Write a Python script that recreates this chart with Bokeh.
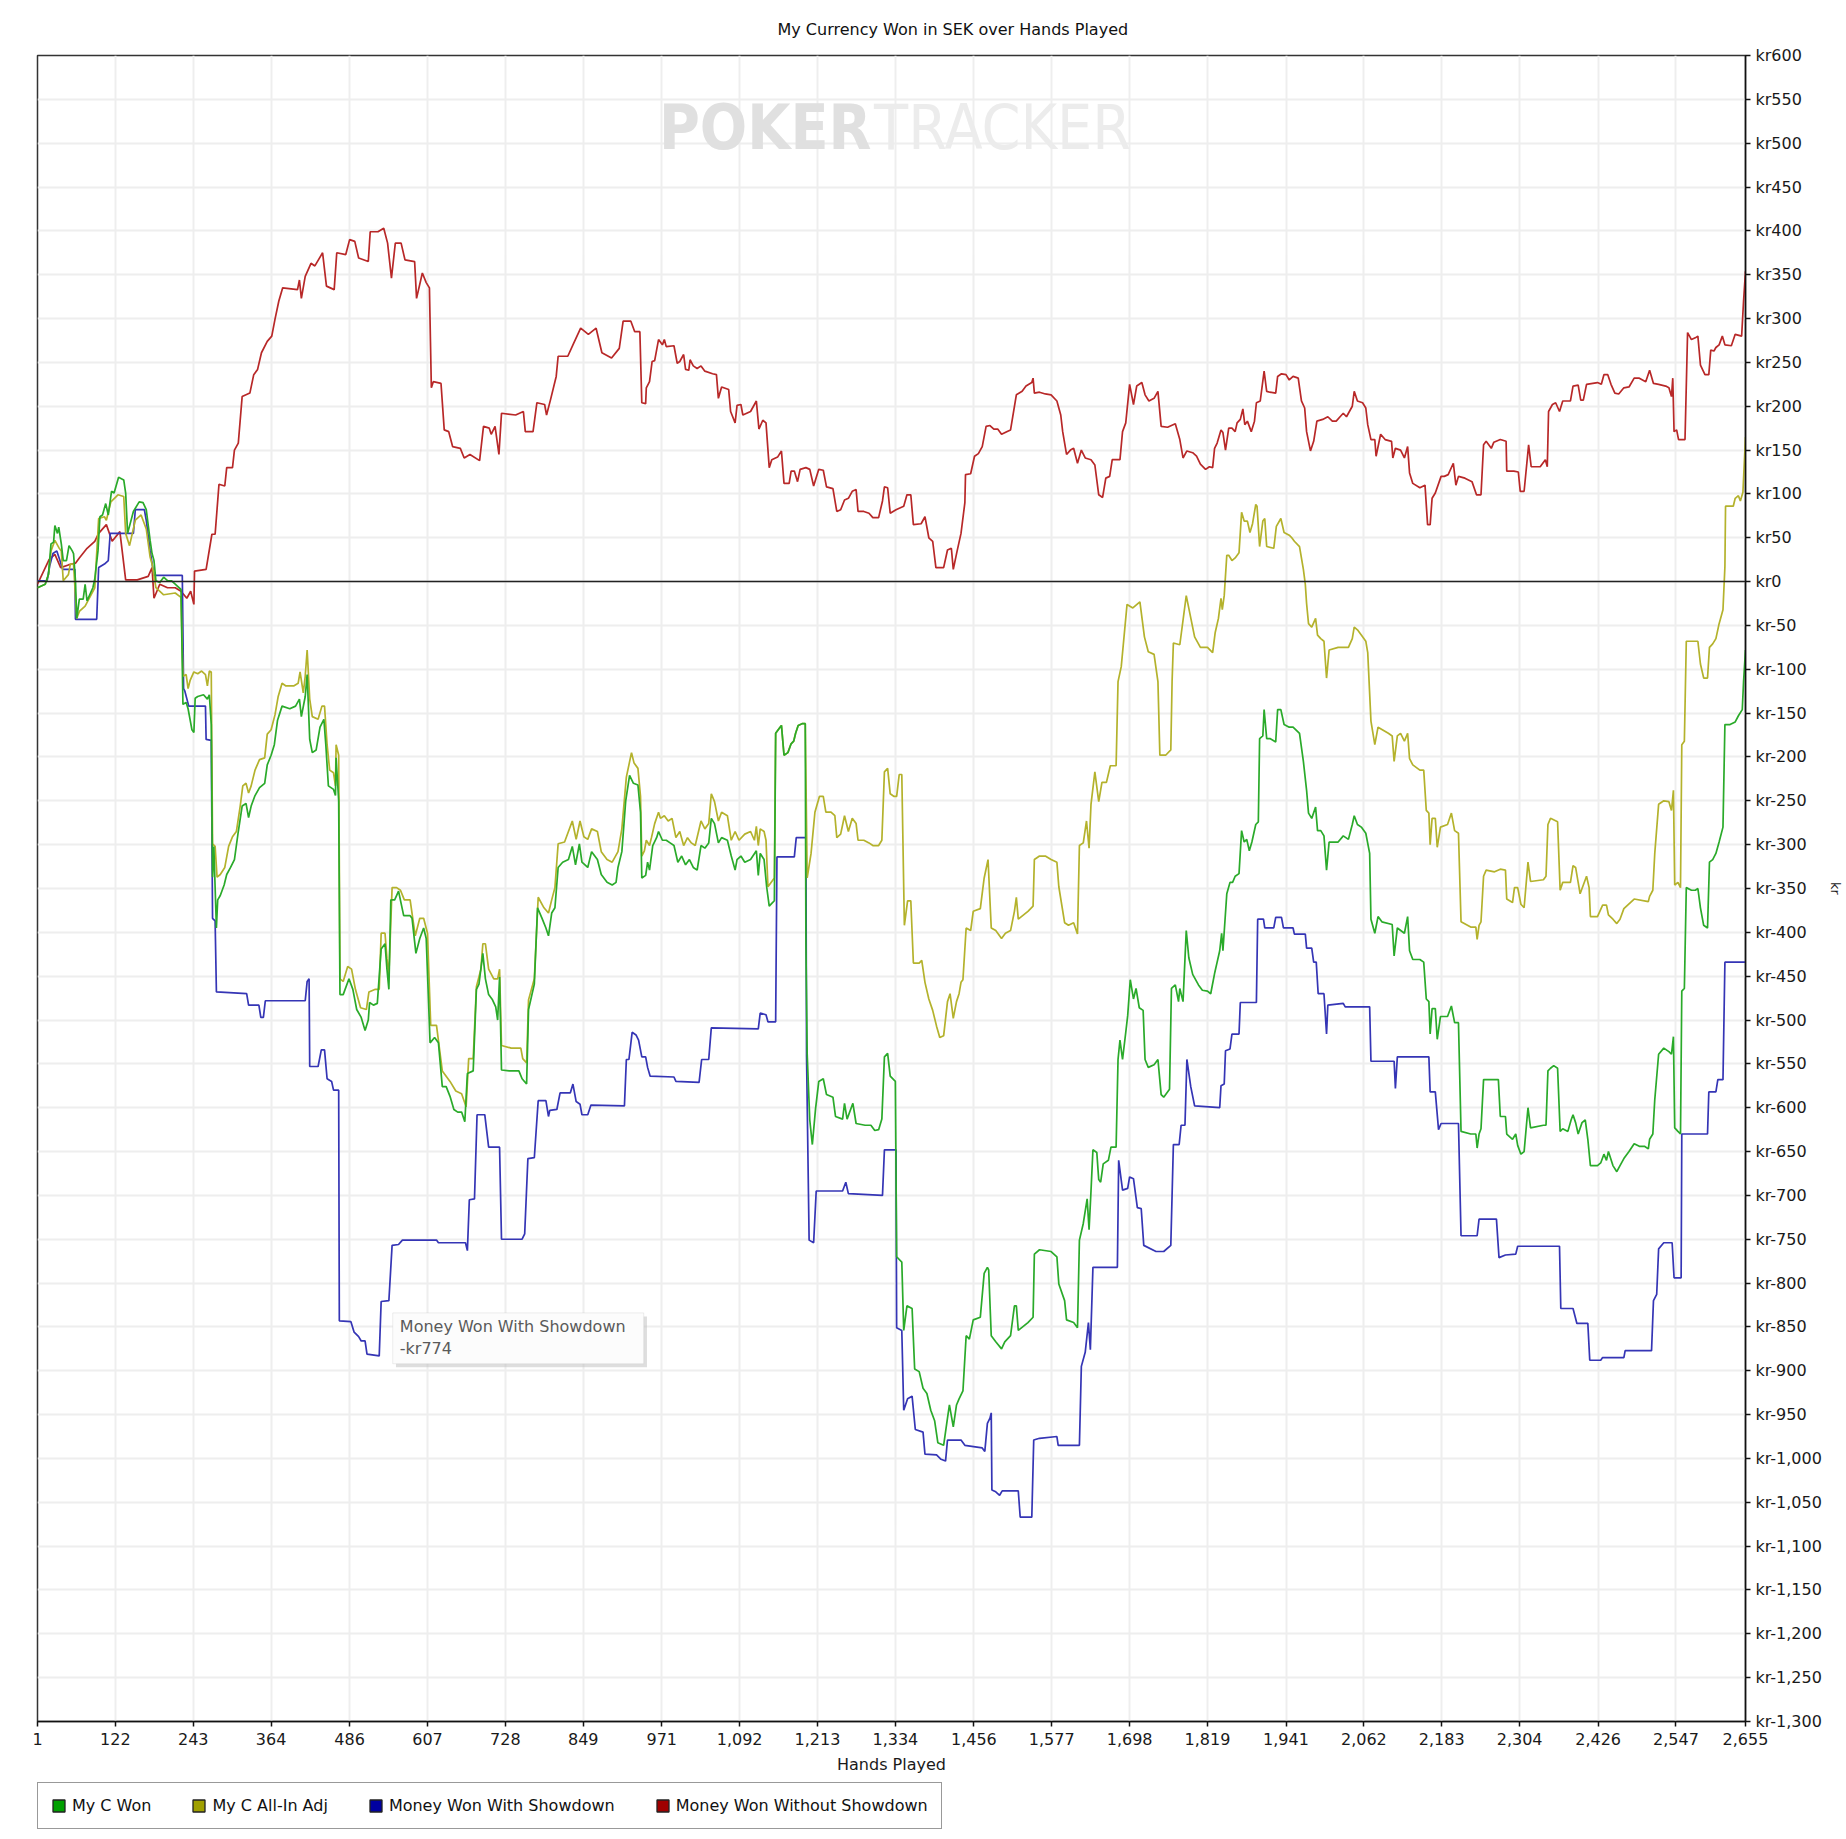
from bokeh.plotting import figure
from bokeh.layouts import column
from bokeh.models import (Range1d, FixedTicker, Span, Legend, LegendItem, Label,
                          BoxAnnotation, ColumnDataSource)
from bokeh.embed import file_html
from bokeh.resources import INLINE

TITLE = "My Currency Won in SEK over Hands Played"
X_TICKS = [1, 122, 243, 364, 486, 607, 728, 849, 971, 1092, 1213, 1334, 1456,
           1577, 1698, 1819, 1941, 2062, 2183, 2304, 2426, 2547, 2655]
Y_TICKS = list(range(-1300, 601, 50))
SERIES_NAMES = ["My C Won", "My C All-In Adj", "Money Won With Showdown",
                "Money Won Without Showdown"]
TOOLTIP = ("Money Won With Showdown", "-kr774")

GREEN = [(1,-7),(7,-5),(13,-3),(18,8),(22,43),(26,45),(28,64),(32,55),(34,62),(38,43),(41,24),(46,24),(50,41),(55,35),(57,32),(60,1),(62,-42),(66,-20),(72,-20),(75,-3),(78,-22),(87,-7),(90,3),(95,35),(98,74),(102,76),(107,89),(111,76),(116,103),(120,101),(127,119),(135,116),(138,101),(141,55),(150,80),(159,91),(165,90),(170,82),(176,47),(179,32),(182,24),(185,1),(191,-1),(197,5),(203,1),(209,1),(215,-3),(224,-9),(227,-140),(232,-138),(235,-145),(241,-169),(244,-172),(246,-133),(250,-131),(259,-129),(265,-134),(268,-129),(271,-163),(273,-337),(275,-302),(279,-395),(281,-363),(285,-358),(291,-346),(295,-334),(301,-326),(307,-317),(313,-285),(319,-256),(325,-253),(329,-269),(333,-256),(339,-244),(346,-235),(354,-230),(358,-209),(364,-198),(369,-186),(374,-158),(381,-142),(393,-145),(402,-142),(408,-134),(411,-154),(417,-131),(420,-106),(424,-180),(428,-195),(434,-192),(440,-166),(446,-157),(449,-186),(453,-233),(461,-237),(464,-244),(465,-201),(469,-250),(471,-471),(476,-471),(485,-453),(491,-465),(497,-488),(504,-497),(510,-512),(515,-500),(517,-480),(523,-483),(529,-481),(535,-419),(541,-413),(544,-442),(547,-465),(550,-363),(556,-363),(562,-353),(570,-381),(580,-381),(583,-384),(589,-424),(595,-407),(601,-395),(605,-407),(611,-526),(618,-520),(624,-526),(630,-576),(636,-576),(642,-587),(648,-602),(654,-605),(660,-605),(665,-616),(669,-561),(678,-558),(683,-465),(687,-459),(693,-424),(697,-453),(702,-471),(708,-477),(713,-485),(716,-500),(719,-451),(722,-557),(734,-558),(749,-558),(754,-567),(761,-573),(764,-488),(773,-459),(778,-372),(785,-384),(791,-395),(795,-404),(800,-378),(805,-372),(810,-326),(817,-320),(826,-317),(832,-302),(837,-323),(843,-299),(847,-320),(856,-326),(862,-308),(871,-317),(877,-334),(886,-343),(894,-346),(900,-343),(903,-326),(909,-308),(915,-250),(921,-221),(927,-230),(934,-232),(938,-263),(940,-338),(946,-335),(949,-320),(952,-329),(957,-301),(963,-292),(966,-285),(972,-295),(978,-295),(984,-298),(990,-301),(996,-320),(1002,-313),(1008,-323),(1014,-317),(1020,-326),(1026,-329),(1032,-301),(1038,-304),(1044,-298),(1048,-270),(1053,-276),(1059,-298),(1064,-292),(1073,-295),(1079,-313),(1085,-329),(1088,-317),(1094,-313),(1100,-320),(1109,-317),(1118,-307),(1121,-335),(1124,-310),(1130,-317),(1134,-348),(1138,-370),(1142,-367),(1146,-364),(1148,-173),(1154,-167),(1157,-164),(1161,-198),(1167,-195),(1172,-185),(1176,-182),(1179,-173),(1183,-164),(1189,-162),(1194,-162),(1195,-413),(1197,-539),(1201,-614),(1205,-642),(1210,-601),(1215,-570),(1222,-567),(1227,-585),(1237,-588),(1241,-610),(1252,-613),(1255,-595),(1259,-613),(1268,-595),(1273,-618),(1287,-620),(1296,-620),(1302,-626),(1308,-625),(1313,-613),(1317,-542),(1322,-538),(1326,-564),(1334,-570),(1336,-770),(1344,-776),(1347,-854),(1352,-826),(1360,-829),(1364,-898),(1371,-901),(1377,-920),(1383,-926),(1389,-945),(1395,-957),(1400,-982),(1409,-985),(1415,-954),(1418,-939),(1424,-964),(1429,-939),(1433,-932),(1439,-923),(1444,-860),(1449,-864),(1455,-842),(1466,-839),(1472,-789),(1477,-782),(1479,-785),(1483,-860),(1490,-867),(1499,-875),(1504,-867),(1513,-860),(1519,-826),(1522,-826),(1525,-854),(1540,-845),(1548,-839),(1550,-767),(1558,-762),(1576,-764),(1585,-770),(1588,-801),(1597,-820),(1600,-842),(1611,-845),(1617,-851),(1620,-751),(1626,-732),(1632,-704),(1635,-739),(1638,-695),(1641,-648),(1647,-651),(1650,-682),(1653,-685),(1657,-664),(1665,-660),(1669,-645),(1677,-645),(1680,-545),(1683,-523),(1687,-545),(1692,-514),(1695,-495),(1699,-454),(1704,-476),(1708,-464),(1713,-486),(1719,-489),(1722,-545),(1727,-554),(1736,-551),(1742,-545),(1747,-585),(1751,-588),(1760,-579),(1763,-464),(1769,-460),(1774,-479),(1776,-464),(1781,-479),(1786,-398),(1790,-429),(1796,-448),(1805,-460),(1811,-466),(1819,-467),(1824,-470),(1830,-447),(1834,-434),(1838,-421),(1841,-401),(1843,-421),(1849,-356),(1854,-343),(1858,-343),(1862,-336),(1868,-333),(1872,-284),(1876,-297),(1880,-294),(1884,-307),(1888,-297),(1894,-277),(1898,-274),(1900,-179),(1905,-176),(1907,-146),(1911,-179),(1916,-179),(1925,-183),(1928,-146),(1933,-146),(1938,-163),(1946,-166),(1952,-166),(1962,-173),(1968,-205),(1973,-238),(1976,-264),(1981,-270),(1987,-257),(1990,-284),(1995,-284),(2000,-290),(2004,-329),(2008,-297),(2022,-297),(2030,-290),(2038,-294),(2044,-277),(2047,-267),(2052,-277),(2058,-280),(2065,-287),(2071,-310),(2073,-385),(2079,-401),(2084,-382),(2090,-388),(2106,-391),(2109,-427),(2114,-395),(2125,-401),(2130,-382),(2133,-421),(2138,-431),(2149,-431),(2155,-434),(2159,-476),(2163,-479),(2165,-516),(2168,-487),(2173,-487),(2176,-522),(2181,-496),(2192,-496),(2198,-484),(2203,-503),(2209,-503),(2213,-627),(2228,-630),(2236,-630),(2238,-646),(2241,-630),(2244,-624),(2248,-568),(2271,-568),(2274,-610),(2282,-610),(2284,-630),(2293,-636),(2298,-630),(2301,-643),(2306,-653),(2311,-650),(2317,-600),(2321,-623),(2341,-620),(2345,-620),(2348,-558),(2352,-555),(2357,-552),(2363,-555),(2367,-627),(2371,-624),(2379,-627),(2384,-614),(2387,-608),(2391,-617),(2395,-630),(2401,-617),(2406,-614),(2410,-636),(2414,-666),(2425,-666),(2430,-663),(2435,-653),(2439,-660),(2442,-650),(2449,-666),(2455,-673),(2460,-666),(2466,-658),(2474,-650),(2482,-641),(2490,-644),(2498,-644),(2504,-647),(2506,-636),(2511,-630),(2514,-591),(2520,-539),(2528,-532),(2536,-536),(2540,-539),(2543,-519),(2545,-623),(2550,-627),(2554,-630),(2556,-467),(2560,-464),(2563,-349),(2571,-352),(2577,-352),(2581,-350),(2585,-372),(2590,-392),(2596,-395),(2599,-320),(2604,-317),(2609,-310),(2614,-297),(2620,-280),(2623,-163),(2631,-163),(2639,-160),(2644,-153),(2650,-146),(2652,-114),(2655,-78)]

YELLOW = [(1,-7),(13,-3),(18,8),(22,35),(28,47),(34,39),(38,35),(41,1),(49,8),(52,20),(57,20),(62,-42),(66,-34),(75,-28),(90,-7),(96,72),(105,74),(108,70),(115,91),(126,99),(135,97),(138,55),(144,41),(153,70),(162,76),(170,60),(176,28),(179,20),(185,-7),(197,-15),(215,-13),(224,-18),(227,-108),(232,-106),(235,-122),(238,-113),(244,-103),(250,-105),(256,-102),(262,-106),(265,-119),(268,-102),(271,-103),(273,-299),(277,-302),(280,-337),(285,-334),(292,-326),(298,-302),(304,-291),(310,-285),(316,-256),(320,-233),(325,-230),(329,-241),(333,-233),(339,-215),(346,-203),(354,-201),(358,-174),(364,-169),(370,-152),(375,-131),(381,-116),(387,-119),(399,-119),(406,-116),(409,-103),(414,-127),(417,-108),(420,-78),(424,-134),(428,-154),(437,-157),(443,-142),(447,-142),(451,-186),(455,-215),(461,-218),(464,-233),(465,-186),(469,-198),(471,-453),(476,-456),(483,-439),(489,-442),(495,-465),(503,-486),(512,-488),(516,-468),(526,-465),(532,-465),(535,-401),(541,-401),(544,-430),(547,-448),(552,-349),(559,-349),(565,-352),(571,-363),(580,-363),(588,-404),(595,-384),(601,-384),(607,-401),(612,-506),(621,-506),(630,-558),(642,-570),(651,-581),(660,-584),(667,-599),(671,-544),(678,-544),(683,-462),(690,-442),(693,-413),(697,-413),(702,-442),(710,-453),(716,-453),(719,-442),(722,-529),(737,-532),(752,-532),(755,-544),(761,-549),(764,-477),(773,-453),(779,-360),(788,-372),(795,-378),(800,-363),(805,-349),(810,-299),(820,-297),(832,-273),(838,-294),(844,-273),(850,-291),(856,-294),(862,-282),(871,-285),(877,-308),(886,-317),(894,-320),(903,-308),(909,-282),(916,-223),(924,-195),(928,-207),(934,-213),(938,-245),(940,-313),(944,-307),(947,-295),(952,-301),(955,-292),(960,-276),(966,-263),(969,-270),(975,-267),(981,-273),(987,-270),(993,-292),(999,-285),(1005,-301),(1011,-292),(1017,-298),(1023,-301),(1032,-273),(1038,-282),(1044,-276),(1048,-242),(1053,-251),(1059,-273),(1064,-263),(1073,-267),(1079,-295),(1085,-285),(1091,-295),(1100,-288),(1109,-285),(1115,-295),(1118,-279),(1121,-301),(1124,-282),(1130,-285),(1133,-295),(1136,-348),(1142,-342),(1146,-338),(1148,-173),(1154,-167),(1157,-164),(1161,-198),(1167,-195),(1172,-185),(1176,-182),(1179,-173),(1183,-164),(1189,-162),(1194,-162),(1197,-338),(1203,-310),(1209,-263),(1216,-245),(1222,-245),(1226,-263),(1234,-263),(1240,-267),(1243,-292),(1249,-288),(1255,-267),(1261,-285),(1267,-270),(1273,-276),(1276,-295),(1285,-295),(1293,-298),(1299,-301),(1308,-301),(1313,-295),(1317,-217),(1322,-213),(1326,-242),(1332,-245),(1336,-245),(1340,-220),(1344,-220),(1348,-392),(1353,-364),(1358,-364),(1362,-435),(1371,-435),(1375,-432),(1380,-457),(1386,-476),(1392,-489),(1398,-507),(1403,-520),(1409,-518),(1415,-479),(1419,-470),(1424,-498),(1429,-479),(1433,-470),(1436,-457),(1439,-454),(1444,-395),(1451,-398),(1455,-376),(1466,-373),(1472,-338),(1478,-317),(1483,-395),(1490,-398),(1499,-407),(1505,-401),(1513,-398),(1519,-376),(1522,-360),(1525,-385),(1540,-376),(1548,-370),(1550,-317),(1558,-313),(1567,-313),(1576,-317),(1585,-320),(1588,-348),(1597,-389),(1603,-392),(1611,-389),(1617,-402),(1620,-301),(1626,-298),(1631,-273),(1635,-304),(1638,-254),(1644,-217),(1650,-251),(1655,-229),(1662,-229),(1668,-210),(1677,-210),(1680,-114),(1685,-97),(1694,-26),(1703,-30),(1714,-23),(1721,-63),(1727,-80),(1736,-83),(1742,-114),(1745,-198),(1754,-198),(1762,-192),(1764,-114),(1766,-70),(1776,-72),(1786,-16),(1799,-63),(1808,-75),(1819,-75),(1827,-81),(1831,-58),(1836,-42),(1840,-19),(1842,-32),(1845,-16),(1849,30),(1852,30),(1857,24),(1862,27),(1868,33),(1872,79),(1876,69),(1881,69),(1885,56),(1889,66),(1894,88),(1896,86),(1900,40),(1905,69),(1908,72),(1911,40),(1922,38),(1926,63),(1933,72),(1938,56),(1946,53),(1950,50),(1954,46),(1962,40),(1968,14),(1971,-3),(1973,-25),(1976,-48),(1981,-52),(1987,-42),(1990,-61),(1995,-65),(2000,-68),(2004,-110),(2008,-78),(2022,-75),(2038,-75),(2044,-65),(2047,-52),(2052,-55),(2058,-61),(2065,-68),(2068,-81),(2073,-159),(2079,-186),(2084,-166),(2100,-173),(2106,-176),(2109,-205),(2114,-176),(2119,-173),(2125,-182),(2130,-173),(2133,-202),(2138,-209),(2149,-215),(2155,-215),(2159,-261),(2163,-264),(2165,-300),(2168,-270),(2173,-270),(2176,-303),(2181,-280),(2192,-277),(2198,-264),(2203,-284),(2209,-287),(2213,-388),(2228,-394),(2236,-394),(2238,-408),(2241,-392),(2244,-388),(2248,-336),(2252,-329),(2265,-331),(2274,-328),(2282,-329),(2284,-362),(2293,-366),(2296,-349),(2301,-349),(2306,-368),(2311,-372),(2317,-320),(2321,-342),(2341,-340),(2345,-336),(2348,-277),(2352,-270),(2363,-274),(2367,-352),(2371,-343),(2383,-343),(2387,-324),(2391,-326),(2395,-343),(2398,-356),(2408,-336),(2412,-349),(2414,-382),(2425,-382),(2433,-369),(2439,-369),(2442,-380),(2449,-385),(2455,-390),(2460,-385),(2466,-373),(2482,-362),(2504,-365),(2506,-359),(2511,-352),(2514,-310),(2520,-254),(2528,-250),(2536,-251),(2540,-261),(2543,-238),(2545,-346),(2550,-343),(2554,-349),(2556,-186),(2560,-182),(2563,-68),(2571,-68),(2581,-68),(2585,-94),(2590,-110),(2596,-110),(2599,-75),(2604,-71),(2609,-65),(2614,-48),(2620,-32),(2623,17),(2624,86),(2636,86),(2639,95),(2644,98),(2647,92),(2651,102),(2655,165)]

BLUE = [(1,1),(16,1),(20,18),(25,32),(31,35),(35,26),(40,14),(59,14),(60,-43),(93,-43),(96,16),(105,20),(111,24),(114,55),(150,55),(153,82),(167,82),(170,70),(176,35),(182,7),(226,7),(228,-122),(230,-125),(236,-142),(262,-142),(263,-180),(271,-181),(273,-384),(277,-387),(279,-468),(326,-470),(329,-483),(345,-483),(348,-497),(352,-497),(355,-478),(417,-478),(420,-456),(423,-453),(424,-553),(437,-553),(442,-534),(447,-534),(451,-567),(458,-570),(461,-580),(469,-580),(470,-843),(488,-844),(493,-856),(500,-861),(504,-866),(510,-866),(513,-881),(532,-883),(535,-821),(547,-820),(552,-757),(562,-756),(568,-751),(621,-751),(624,-754),(666,-754),(669,-763),(672,-705),(680,-704),(684,-608),(696,-608),(702,-645),(719,-645),(722,-750),(754,-750),(758,-744),(763,-658),(773,-657),(779,-592),(791,-592),(795,-610),(797,-603),(808,-602),(813,-583),(829,-583),(833,-573),(838,-593),(844,-596),(847,-608),(856,-608),(861,-597),(913,-598),(916,-545),(920,-545),(925,-514),(931,-517),(935,-523),(940,-542),(946,-542),(949,-554),(953,-564),(990,-565),(993,-570),(1029,-571),(1033,-545),(1044,-545),(1048,-509),(1121,-510),(1124,-492),(1133,-494),(1136,-502),(1148,-502),(1150,-314),(1177,-314),(1180,-292),(1195,-292),(1196,-542),(1200,-751),(1207,-754),(1211,-695),(1252,-695),(1257,-685),(1261,-698),(1314,-700),(1317,-648),(1335,-648),(1336,-851),(1344,-854),(1347,-945),(1353,-932),(1360,-929),(1365,-967),(1377,-970),(1380,-995),(1398,-996),(1405,-1001),(1412,-1003),(1415,-979),(1436,-979),(1442,-985),(1469,-988),(1473,-992),(1477,-960),(1481,-954),(1483,-948),(1484,-1036),(1490,-1038),(1496,-1042),(1500,-1037),(1525,-1037),(1528,-1067),(1546,-1067),(1549,-979),(1558,-977),(1585,-975),(1587,-985),(1620,-985),(1623,-895),(1629,-879),(1634,-845),(1637,-876),(1641,-782),(1679,-782),(1681,-660),(1687,-694),(1695,-692),(1698,-679),(1704,-681),(1710,-714),(1716,-715),(1720,-757),(1739,-764),(1751,-764),(1762,-757),(1766,-642),(1775,-642),(1778,-620),(1784,-620),(1787,-545),(1793,-576),(1799,-598),(1838,-600),(1840,-575),(1845,-573),(1847,-535),(1854,-533),(1857,-516),(1868,-516),(1870,-480),(1895,-480),(1897,-385),(1906,-385),(1908,-395),(1922,-395),(1925,-383),(1934,-383),(1937,-395),(1952,-395),(1954,-402),(1971,-402),(1973,-418),(1981,-418),(1984,-434),(1988,-434),(1991,-470),(2000,-470),(2004,-516),(2006,-483),(2030,-481),(2033,-485),(2071,-485),(2073,-547),(2109,-547),(2111,-578),(2114,-542),(2163,-542),(2165,-582),(2173,-582),(2178,-625),(2182,-618),(2209,-618),(2213,-746),(2238,-746),(2241,-727),(2268,-727),(2272,-771),(2282,-768),(2298,-767),(2301,-758),(2366,-758),(2368,-829),(2387,-829),(2393,-846),(2410,-846),(2413,-888),(2430,-888),(2433,-885),(2466,-885),(2468,-877),(2509,-877),(2512,-820),(2517,-813),(2520,-761),(2528,-754),(2541,-754),(2544,-794),(2555,-794),(2556,-630),(2596,-630),(2598,-582),(2609,-582),(2612,-568),(2620,-568),(2623,-434),(2655,-434)]

RED = [(1,-3),(19,25),(28,31),(37,16),(49,19),(60,21),(66,27),(78,38),(90,46),(96,55),(108,65),(117,46),(129,57),(138,2),(156,2),(173,6),(179,16),(182,-19),(191,-3),(203,-7),(215,-7),(224,-11),(233,-19),(239,-11),(244,-26),(245,12),(263,14),(272,54),(277,54),(283,111),(292,109),(295,130),(304,130),(307,150),(313,158),(319,211),(331,215),(337,236),(343,242),(349,261),(358,274),(365,280),(370,299),(376,320),(382,335),(405,333),(408,344),(411,323),(417,348),(426,363),(432,360),(444,375),(450,337),(462,333),(466,375),(480,373),(486,390),(494,388),(500,369),(515,365),(518,399),(530,399),(539,403),(545,386),(551,346),(557,386),(566,386),(572,367),(587,365),(590,323),(599,352),(605,341),(610,335),(613,221),(616,228),(628,226),(633,173),(640,171),(646,154),(658,152),(664,141),(673,145),(688,138),(694,177),(703,175),(706,168),(712,177),(718,145),(722,192),(744,190),(756,194),(759,171),(771,171),(777,204),(789,202),(792,190),(798,207),(807,234),(810,257),(825,257),(833,270),(845,289),(857,282),(869,289),(878,261),(893,255),(905,266),(911,297),(923,297),(929,285),(937,285),(940,204),(946,203),(947,221),(952,228),(956,251),(960,252),(966,276),(972,270),(975,276),(978,268),(990,269),(995,249),(999,251),(1005,259),(1008,242),(1013,241),(1015,253),(1020,246),(1026,243),(1032,246),(1038,240),(1050,237),(1056,236),(1059,209),(1064,222),(1075,219),(1078,194),(1085,181),(1088,201),(1094,202),(1097,190),(1109,194),(1118,206),(1122,174),(1128,184),(1133,181),(1138,130),(1142,139),(1151,142),(1157,149),(1161,112),(1169,112),(1172,126),(1177,126),(1182,114),(1186,128),(1195,130),(1201,128),(1207,109),(1215,128),(1222,127),(1227,108),(1237,106),(1243,80),(1249,82),(1255,93),(1261,95),(1267,103),(1273,105),(1276,80),(1285,80),(1293,78),(1299,73),(1308,73),(1314,92),(1317,108),(1322,107),(1326,78),(1335,82),(1347,86),(1352,99),(1358,99),(1362,65),(1374,66),(1380,74),(1386,50),(1392,46),(1397,16),(1409,16),(1415,36),(1421,38),(1424,14),(1430,35),(1436,55),(1442,90),(1443,122),(1451,123),(1457,143),(1463,146),(1469,154),(1475,177),(1481,178),(1487,174),(1493,174),(1499,168),(1507,171),(1513,173),(1522,213),(1531,217),(1537,223),(1546,227),(1548,232),(1550,215),(1558,216),(1567,214),(1576,213),(1585,206),(1591,190),(1594,171),(1600,145),(1606,150),(1611,152),(1617,135),(1623,150),(1629,141),(1638,139),(1644,133),(1650,99),(1656,96),(1661,118),(1667,120),(1671,139),(1683,139),(1687,171),(1692,181),(1698,225),(1704,202),(1709,223),(1717,227),(1722,213),(1728,206),(1736,209),(1742,217),(1747,177),(1757,176),(1769,180),(1776,162),(1781,141),(1787,149),(1796,147),(1802,143),(1808,134),(1816,128),(1822,131),(1827,130),(1830,152),(1834,158),(1840,173),(1843,170),(1847,150),(1852,175),(1857,175),(1862,171),(1865,181),(1870,185),(1874,197),(1877,179),(1881,183),(1887,171),(1892,183),(1895,204),(1901,206),(1907,240),(1911,217),(1916,216),(1925,215),(1928,234),(1934,237),(1941,236),(1946,230),(1952,234),(1960,232),(1965,206),(1970,198),(1973,171),(1979,149),(1984,160),(1989,183),(1998,185),(2006,188),(2013,183),(2019,183),(2025,188),(2030,192),(2035,188),(2044,200),(2047,217),(2052,206),(2060,204),(2065,198),(2068,179),(2073,162),(2079,162),(2081,143),(2088,168),(2095,162),(2105,160),(2107,141),(2111,152),(2119,150),(2125,141),(2130,154),(2133,124),(2138,112),(2149,107),(2157,110),(2161,65),(2165,65),(2168,95),(2173,101),(2182,120),(2187,120),(2193,122),(2201,135),(2205,110),(2209,120),(2219,118),(2230,114),(2237,99),(2244,99),(2248,156),(2252,160),(2260,152),(2264,159),(2274,162),(2283,160),(2284,126),(2295,126),(2302,125),(2305,103),(2311,103),(2318,156),(2322,131),(2336,131),(2344,139),(2347,131),(2349,194),(2355,202),(2360,204),(2366,194),(2371,206),(2383,206),(2387,223),(2395,224),(2399,207),(2403,207),(2408,225),(2425,227),(2431,225),(2435,236),(2441,236),(2446,225),(2452,215),(2458,214),(2466,221),(2474,222),(2482,232),(2490,232),(2500,228),(2506,241),(2512,226),(2520,225),(2531,223),(2536,221),(2540,211),(2542,232),(2544,171),(2548,173),(2551,162),(2561,162),(2565,284),(2571,276),(2577,278),(2581,280),(2585,247),(2592,236),(2598,236),(2601,264),(2606,263),(2609,267),(2614,270),(2619,280),(2623,270),(2633,269),(2639,282),(2649,280),(2652,320),(2655,354)]

LINE_COLORS = ["#2aaa2a", "#b4b22c", "#3535b5", "#b82828"]
SWATCH_COLORS = ["#00a000", "#a0a000", "#0000a0", "#a00000"]
FONT = "DejaVu Sans"

p = figure(width=1846, height=1779, output_backend="svg", toolbar_location=None,
           x_range=Range1d(1, 2655), y_range=Range1d(-1300, 600),
           y_axis_location="right", title=TITLE,
           min_border_left=37, min_border_right=101, min_border_top=54,
           min_border_bottom=58)
p.background_fill_color = "white"
p.border_fill_color = "white"
p.outline_line_color = "#333333"
p.outline_line_width = 1.5

p.title.text_font = FONT
p.title.text_font_size = "16px"
p.title.text_font_style = "normal"
p.title.text_color = "#111111"
p.title.align = "left"
p.title.offset = 740
p.title.standoff = 34

p.xaxis.ticker = FixedTicker(ticks=X_TICKS)
p.xaxis.major_label_overrides = {t: f"{t:,}" for t in X_TICKS}
p.xaxis.axis_label = "Hands Played"
p.yaxis.ticker = FixedTicker(ticks=Y_TICKS)
p.yaxis.major_label_overrides = {t: "kr" + f"{t:,}" for t in Y_TICKS}
p.yaxis.axis_label = "kr"
for ax in (p.xaxis, p.yaxis):
    ax.major_label_text_font = FONT
    ax.major_label_text_font_size = "16px"
    ax.major_label_text_color = "#1a1a1a"
    ax.axis_label_text_font = FONT
    ax.axis_label_text_font_style = "normal"
    ax.axis_label_text_color = "#1a1a1a"
    ax.axis_line_color = "#111111"
    ax.axis_line_width = 1.5
    ax.major_tick_line_color = "#111111"
    ax.major_tick_line_width = 1.5
    ax.major_tick_out = 5
    ax.major_tick_in = 0
    ax.minor_tick_line_color = None
p.xaxis.axis_label_text_font_size = "16px"
p.xaxis.axis_label_standoff = 7
p.xaxis.major_label_standoff = 6
p.yaxis.axis_label_text_font_size = "13px"
p.yaxis.major_label_standoff = 5
p.yaxis.axis_label_standoff = 3

p.xgrid.ticker = FixedTicker(ticks=X_TICKS)
p.ygrid.ticker = FixedTicker(ticks=Y_TICKS)
p.grid.grid_line_color = "#eeeeee"
p.grid.grid_line_width = 2

# watermark
p.add_layout(Label(x=1297, y=518, text="POKER", text_align="right", text_baseline="middle",
                   text_font="DejaVu Sans Condensed", text_font_style="bold",
                   text_font_size="62px", text_color="#e0e0e0", level="underlay"))
p.add_layout(Label(x=1301, y=518, text="TRACKER", text_align="left", text_baseline="middle",
                   text_font="DejaVu Sans Condensed", text_font_size="62px",
                   text_color="#ececec", level="underlay"))

p.add_layout(Span(location=0, dimension="width", line_color="#222222", line_width=1.5))

series = [GREEN, YELLOW, BLUE, RED]
draw_order = [3, 2, 1, 0]
for i in draw_order:
    xs = [h for h, v in series[i]]
    ys = [v for h, v in series[i]]
    p.line(xs, ys, line_color=LINE_COLORS[i], line_width=1.7)

# hover tooltip captured in the picture
p.add_layout(BoxAnnotation(left=558, right=948, top=-838, bottom=-896,
                           fill_color="#bdbdbd", fill_alpha=0.5, line_color=None))
p.add_layout(BoxAnnotation(left=553, right=943, top=-834, bottom=-892,
                           fill_color="#fcfcfc", fill_alpha=1, line_color="#c4c4c4",
                           line_width=1))
p.add_layout(Label(x=564, y=-849, text=TOOLTIP[0], text_baseline="middle",
                   text_font=FONT, text_font_size="16px", text_color="#5a5a5a"))
p.add_layout(Label(x=564, y=-875, text=TOOLTIP[1], text_baseline="middle",
                   text_font=FONT, text_font_size="16px", text_color="#5a5a5a"))

# legend strip below the chart (swatch glyphs sit outside the strip's range)
lg = figure(width=1846, height=60, output_backend="svg", toolbar_location=None,
            x_range=Range1d(0, 1), y_range=Range1d(0, 1),
            x_axis_location=None, y_axis_location=None,
            min_border_left=36, min_border_top=3, min_border_right=0, min_border_bottom=0)
lg.grid.visible = False
lg.outline_line_color = None
lg.background_fill_color = "white"
lg.border_fill_color = "white"
items = []
for i, name in enumerate(SERIES_NAMES):
    src = ColumnDataSource(dict(left=[10], right=[11], top=[11], bottom=[10]))
    r = lg.quad(left="left", right="right", top="top", bottom="bottom", source=src,
                fill_color=SWATCH_COLORS[i], line_color="#222222", line_width=1.3)
    items.append(LegendItem(label=name, renderers=[r]))
legend = Legend(items=items, orientation="horizontal", location="top_left",
                glyph_width=15, glyph_height=15, label_standoff=6, spacing=40,
                padding=13, margin=0, border_line_color="#333333", border_line_width=1.5,
                label_text_font=FONT, label_text_font_size="16px",
                label_text_color="#111111", background_fill_color="white",
                background_fill_alpha=1)
lg.add_layout(legend)

page = column(p, lg, spacing=0)
open("out.html", "w").write(file_html(page, INLINE))
